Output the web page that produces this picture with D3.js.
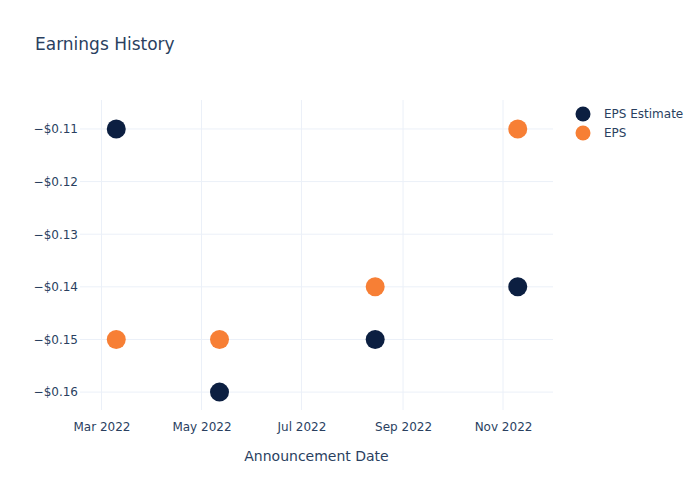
<!DOCTYPE html>
<html>
<head>
<meta charset="utf-8">
<script src="https://cdn.jsdelivr.net/npm/d3@7"></script>
<style>
body { margin: 0; background: #fff; }
svg { display: block; font-family: "DejaVu Sans", Verdana, sans-serif; }
</style>
</head>
<body>
<div id="chart"></div>
<script>
const dates = ["2022-03-10", "2022-05-12", "2022-08-15", "2022-11-10"];
const epsEstimate = [-0.11, -0.16, -0.15, -0.14];
const eps = [-0.15, -0.15, -0.14, -0.11];
const seriesNames = ["EPS Estimate", "EPS"];
const seriesColors = ["#0c1f41", "#f77f35"];
const yTicks = [-0.11, -0.12, -0.13, -0.14, -0.15, -0.16];
const xTicks = ["2022-03-01", "2022-05-01", "2022-07-01", "2022-09-01", "2022-11-01"];

const W = 700, H = 500;
const m = { l: 80, r: 147, t: 100, b: 90 };
const parse = d3.utcParse("%Y-%m-%d");

const svg = d3.select("#chart").append("svg").attr("width", W).attr("height", H);

const x = d3.scaleUtc()
  .domain([new Date(Date.UTC(2022, 1, 15, 21)), new Date(Date.UTC(2022, 11, 1, 12))])
  .range([m.l, W - m.r]);
const y = d3.scaleLinear().domain([-0.1634, -0.1045]).range([H - m.b, m.t]);

const textColor = "#2a3f5f";
const gridColor = "#ebf0f8";

// grid
svg.append("g").selectAll("line").data(xTicks).join("line")
  .attr("x1", d => x(parse(d))).attr("x2", d => x(parse(d)))
  .attr("y1", m.t).attr("y2", H - m.b)
  .attr("stroke", gridColor).attr("stroke-width", 1);
svg.append("g").selectAll("line").data(yTicks).join("line")
  .attr("x1", m.l).attr("x2", W - m.r)
  .attr("y1", d => y(d)).attr("y2", d => y(d))
  .attr("stroke", gridColor).attr("stroke-width", 1);

// axes
const fmtY = v => "\u2212$" + Math.abs(v).toFixed(2);
const yAxis = svg.append("g").attr("transform", `translate(${m.l},0)`)
  .call(d3.axisLeft(y).tickValues(yTicks).tickFormat(fmtY).tickSize(0).tickPadding(2));
yAxis.select(".domain").remove();
yAxis.selectAll("text").attr("fill", textColor).style("font-size", "12px")
  .style("font-family", '"DejaVu Sans", Verdana, sans-serif');

const fmtX = d3.utcFormat("%b %Y");
const xAxis = svg.append("g").attr("transform", `translate(0,${H - m.b})`)
  .call(d3.axisBottom(x).tickValues(xTicks.map(parse)).tickFormat(fmtX).tickSize(0).tickPadding(12));
xAxis.select(".domain").remove();
xAxis.selectAll("text").attr("fill", textColor).style("font-size", "12px")
  .style("font-family", '"DejaVu Sans", Verdana, sans-serif');

// axis title
svg.append("text").attr("x", (m.l + W - m.r) / 2).attr("y", 461)
  .attr("text-anchor", "middle").attr("fill", textColor)
  .style("font-size", "14px").text("Announcement Date");

// title
svg.append("text").attr("x", 35).attr("y", 50)
  .attr("fill", textColor).style("font-size", "17px").text("Earnings History");

// points
const series = [epsEstimate, eps];
series.forEach((vals, si) => {
  svg.append("g").selectAll("circle").data(vals).join("circle")
    .attr("cx", (d, i) => x(parse(dates[i])))
    .attr("cy", d => y(d))
    .attr("r", 9.5)
    .attr("fill", seriesColors[si]);
});

// legend
const lg = svg.append("g");
seriesNames.forEach((name, i) => {
  const yy = 114 + i * 19;
  lg.append("circle").attr("cx", 583).attr("cy", yy).attr("r", 7.5).attr("fill", seriesColors[i]);
  lg.append("text").attr("x", 604).attr("y", yy + 4).attr("fill", textColor)
    .style("font-size", "12px").text(name);
});
</script>
</body>
</html>
